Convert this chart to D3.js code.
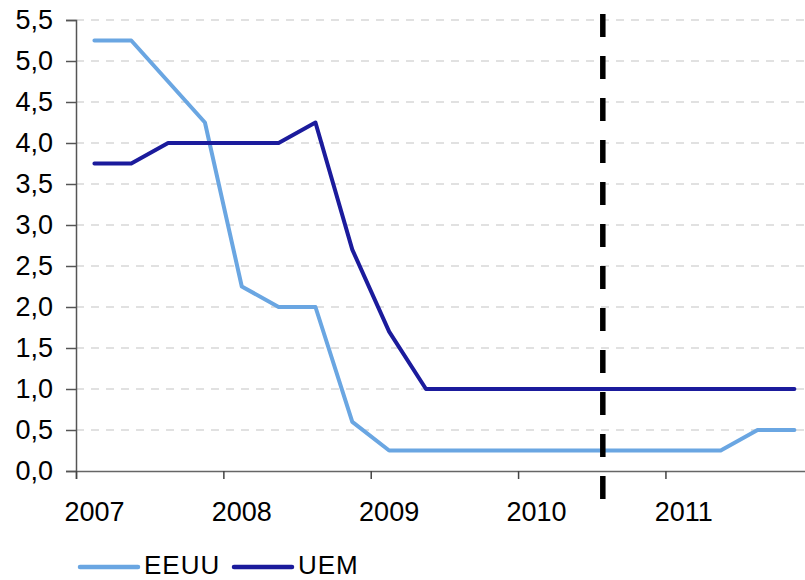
<!DOCTYPE html>
<html>
<head>
<meta charset="utf-8">
<script src="https://cdn.jsdelivr.net/npm/d3@7"></script>
<style>
  body { margin: 0; background: #fff; }
  text { font-family: "Liberation Sans", Arial, sans-serif; }
</style>
</head>
<body>
<div id="chart"></div>
<script>
// quarterly policy rates, 2007 Q1 .. 2011 Q4
var quarters = ["2007T1","2007T2","2007T3","2007T4","2008T1","2008T2","2008T3","2008T4",
                "2009T1","2009T2","2009T3","2009T4","2010T1","2010T2","2010T3","2010T4",
                "2011T1","2011T2","2011T3","2011T4"];
var eeuu = [5.25,5.25,4.75,4.25,2.25,2.0,2.0,0.6,0.25,0.25,0.25,0.25,0.25,0.25,0.25,0.25,0.25,0.25,0.5,0.5];
var uem  = [3.75,3.75,4.0,4.0,4.0,4.0,4.25,2.7,1.7,1.0,1.0,1.0,1.0,1.0,1.0,1.0,1.0,1.0,1.0,1.0];
var years = ["2007","2008","2009","2010","2011"];
var yTicks = [0,0.5,1,1.5,2,2.5,3,3.5,4,4.5,5,5.5];
var markerQuarter = 14.3; // vertical dashed line position (in quarters from 2007 Q1)

var series = [
  {name: "EEUU", values: eeuu, color: "#6aa6e2"},
  {name: "UEM",  values: uem,  color: "#1b1b9c"}
];

var W = 805, H = 580;
var plotLeft = 76, plotTop = 20, plotBottom = 471;
var qw = 36.84;

var svg = d3.select("#chart").append("svg")
  .attr("width", W).attr("height", H);

var x = d3.scaleLinear().domain([0, quarters.length]).range([plotLeft, plotLeft + quarters.length * qw]);
var y = d3.scaleLinear().domain([0, 5.5]).range([plotBottom, plotTop]);

// gridlines
svg.append("g").selectAll("line")
  .data(yTicks.filter(function(d) { return d > 0; }))
  .enter().append("line")
  .attr("x1", plotLeft).attr("x2", W)
  .attr("y1", function(d) { return y(d); })
  .attr("y2", function(d) { return y(d); })
  .attr("stroke", "#c4c4c4")
  .attr("stroke-width", 1.2)
  .attr("stroke-dasharray", "8,7");

// y axis
var yAxis = d3.axisLeft(y).tickValues(yTicks).tickSize(10).tickPadding(13)
  .tickFormat(function(d) { return d3.format(".1f")(d).replace(".", ","); });
var gy = svg.append("g").attr("transform", "translate(" + plotLeft + ",0)").call(yAxis);
gy.select(".domain").attr("stroke", "#555").attr("stroke-width", 1.5);
gy.selectAll(".tick line").attr("stroke", "#555").attr("stroke-width", 1.5);
gy.selectAll("text").attr("font-size", 27).attr("fill", "#000");

// x axis
var xAxis = d3.axisBottom(x).tickValues([0,4,8,12,16]).tickSize(8).tickFormat("");
var gx = svg.append("g").attr("transform", "translate(0," + plotBottom + ")").call(xAxis);
gx.select(".domain").attr("stroke", "#666").attr("stroke-width", 1.5);
gx.selectAll(".tick line").attr("stroke", "#444").attr("stroke-width", 1.5);

svg.append("g").selectAll("text")
  .data(years)
  .enter().append("text")
  .attr("x", function(d, i) { return x(i * 4 + 0.5); })
  .attr("y", 521)
  .attr("text-anchor", "middle")
  .attr("font-size", 27)
  .text(function(d) { return d; });

// lines
var line = d3.line()
  .x(function(d, i) { return x(i + 0.5); })
  .y(function(d) { return y(d); });

svg.append("g").selectAll("path")
  .data(series)
  .enter().append("path")
  .attr("d", function(d) { return line(d.values); })
  .attr("fill", "none")
  .attr("stroke", function(d) { return d.color; })
  .attr("stroke-width", 4)
  .attr("stroke-linejoin", "round")
  .attr("stroke-linecap", "round");

// vertical dashed marker
svg.append("line")
  .attr("x1", x(markerQuarter)).attr("x2", x(markerQuarter))
  .attr("y1", 14).attr("y2", 499)
  .attr("stroke", "#000")
  .attr("stroke-width", 5.5)
  .attr("stroke-dasharray", "23,19");

// legend
var legend = svg.append("g").selectAll("g")
  .data(series)
  .enter().append("g")
  .attr("transform", function(d, i) { return "translate(" + (i === 0 ? 80 : 234) + ",0)"; });

legend.append("line")
  .attr("x1", 0).attr("x2", 58)
  .attr("y1", 567).attr("y2", 567)
  .attr("stroke", function(d) { return d.color; })
  .attr("stroke-width", 4.5)
  .attr("stroke-linecap", "round");

legend.append("text")
  .attr("x", 64).attr("y", 574)
  .attr("font-size", 26)
  .attr("letter-spacing", 1)
  .text(function(d) { return d.name; });
</script>
</body>
</html>
